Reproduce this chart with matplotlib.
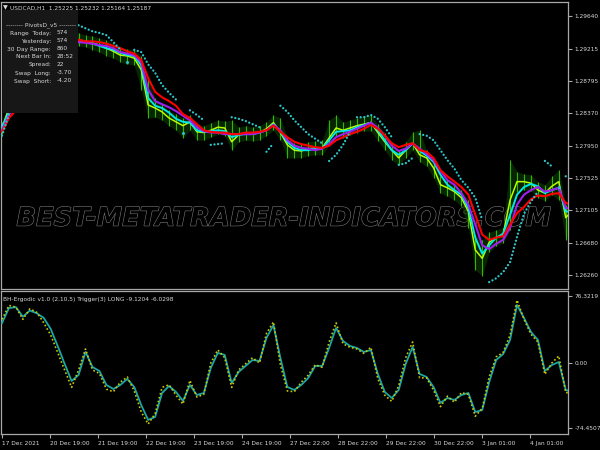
import numpy as np
import matplotlib
matplotlib.use("Agg")
import matplotlib.pyplot as plt
from matplotlib import patheffects as pe
from matplotlib import font_manager as fm
from matplotlib.patches import Rectangle

# ---------------- data ----------------
hours_per_sample = 3.48   # one sample every ~3.5 H1 bars

close = [1.2818, 1.2844, 1.2855, 1.2870, 1.2883, 1.2896, 1.2907, 1.2917, 1.2925, 1.2930,
         1.2933, 1.2933, 1.2931, 1.2929, 1.2926, 1.2922, 1.2918, 1.2913, 1.2912, 1.2909,
         1.2894, 1.2848, 1.2844, 1.2839, 1.2831, 1.2826, 1.2821, 1.2826, 1.2813, 1.2812,
         1.2815, 1.2819, 1.2818, 1.2800, 1.2809, 1.2812, 1.2810, 1.2812, 1.2817, 1.2825,
         1.2812, 1.2796, 1.2789, 1.2788, 1.2791, 1.2792, 1.2792, 1.2805, 1.2818, 1.2815,
         1.2818, 1.2821, 1.2823, 1.2825, 1.2812, 1.2800, 1.2789, 1.2779, 1.2789, 1.2798,
         1.2783, 1.2779, 1.2766, 1.2744, 1.2740, 1.2735, 1.2727, 1.2709, 1.2659, 1.2648,
         1.2669, 1.2675, 1.2679, 1.2724, 1.2748, 1.2748, 1.2746, 1.2737, 1.2733, 1.2742,
         1.2748, 1.2701, 1.2711]

ma_cyan = [1.2819, 1.2839, 1.2851, 1.2865, 1.2878, 1.2891, 1.2903, 1.2913, 1.2921, 1.2928,
           1.2930, 1.2931, 1.2930, 1.2928, 1.2925, 1.2922, 1.2920, 1.2916, 1.2913, 1.2912,
           1.2900, 1.2857, 1.2847, 1.2844, 1.2838, 1.2830, 1.2826, 1.2825, 1.2815, 1.2813,
           1.2814, 1.2815, 1.2814, 1.2806, 1.2809, 1.2810, 1.2810, 1.2812, 1.2815, 1.2823,
           1.2813, 1.2800, 1.2792, 1.2789, 1.2789, 1.2791, 1.2791, 1.2802, 1.2813, 1.2814,
           1.2815, 1.2819, 1.2822, 1.2825, 1.2815, 1.2802, 1.2789, 1.2783, 1.2789, 1.2798,
           1.2788, 1.2782, 1.2774, 1.2757, 1.2744, 1.2737, 1.2731, 1.2714, 1.2675, 1.2654,
           1.2665, 1.2675, 1.2680, 1.2705, 1.2731, 1.2741, 1.2745, 1.2742, 1.2733, 1.2737,
           1.2740, 1.2709, 1.2709]

ma_purple = [1.2815, 1.2835, 1.2847, 1.2860, 1.2873, 1.2884, 1.2896, 1.2907, 1.2916, 1.2922,
             1.2926, 1.2930, 1.2929, 1.2928, 1.2926, 1.2925, 1.2922, 1.2917, 1.2915, 1.2913,
             1.2904, 1.2868, 1.2853, 1.2849, 1.2845, 1.2840, 1.2834, 1.2828, 1.2819, 1.2814,
             1.2812, 1.2812, 1.2810, 1.2810, 1.2810, 1.2810, 1.2810, 1.2812, 1.2815, 1.2822,
             1.2815, 1.2802, 1.2795, 1.2792, 1.2791, 1.2789, 1.2791, 1.2797, 1.2806, 1.2810,
             1.2813, 1.2817, 1.2821, 1.2825, 1.2818, 1.2808, 1.2795, 1.2788, 1.2791, 1.2798,
             1.2791, 1.2784, 1.2776, 1.2762, 1.2750, 1.2744, 1.2733, 1.2718, 1.2692, 1.2665,
             1.2660, 1.2667, 1.2672, 1.2688, 1.2718, 1.2731, 1.2737, 1.2741, 1.2735, 1.2737,
             1.2740, 1.2714, 1.2711]

ma_red = [1.2813, 1.2831, 1.2841, 1.2855, 1.2866, 1.2878, 1.2888, 1.2899, 1.2908, 1.2917,
          1.2925, 1.2933, 1.2931, 1.2931, 1.2930, 1.2928, 1.2925, 1.2922, 1.2918, 1.2915,
          1.2907, 1.2883, 1.2865, 1.2858, 1.2853, 1.2847, 1.2836, 1.2831, 1.2823, 1.2815,
          1.2813, 1.2812, 1.2812, 1.2810, 1.2810, 1.2812, 1.2812, 1.2813, 1.2815, 1.2821,
          1.2813, 1.2806, 1.2800, 1.2797, 1.2795, 1.2793, 1.2792, 1.2795, 1.2802, 1.2806,
          1.2810, 1.2813, 1.2817, 1.2822, 1.2817, 1.2808, 1.2798, 1.2793, 1.2796, 1.2798,
          1.2789, 1.2787, 1.2779, 1.2763, 1.2755, 1.2748, 1.2741, 1.2731, 1.2705, 1.2679,
          1.2672, 1.2675, 1.2677, 1.2692, 1.2707, 1.2715, 1.2725, 1.2730, 1.2729, 1.2732,
          1.2733, 1.2720, 1.2719]

sar = [1.2808, 1.2836, 1.2844, 1.2855, 1.2865, 1.2875, 1.2886, 1.2896, 1.2907, 1.2915,
       1.2922, 1.2952, 1.2948, 1.2944, 1.2942, 1.2939, 1.2930, 1.2920, 1.2904, 1.2920,
       1.2917, 1.2901, 1.2890, 1.2874, 1.2864, 1.2855, 1.2812, 1.2841, 1.2835, 1.2828,
       1.2796, 1.2797, 1.2798, 1.2832, 1.2830, 1.2827, 1.2823, 1.2819, 1.2787, 1.2798,
       1.2847, 1.2839, 1.2828, 1.2819, 1.2810, 1.2804, 1.2798, 1.2775, 1.2783, 1.2796,
       1.2813, 1.2832, 1.2832, 1.2835, 1.2830, 1.2819, 1.2806, 1.2770, 1.2772, 1.2779,
       1.2810, 1.2808, 1.2802, 1.2789, 1.2776, 1.2765, 1.2750, 1.2740, 1.2727, 1.2698,
       1.2617, 1.2622, 1.2630, 1.2643, 1.2676, 1.2706, 1.2722, 1.2735, 1.2775, 1.2768,
       1.2741, 1.2755, 1.2753]

high = [1.2826, 1.2849, 1.2862, 1.2878, 1.2891, 1.2904, 1.2915, 1.2925, 1.2933, 1.2938,
        1.2941, 1.2942, 1.2939, 1.2938, 1.2935, 1.2933, 1.2928, 1.2924, 1.2921, 1.2920,
        1.2912, 1.2881, 1.2857, 1.2849, 1.2841, 1.2836, 1.2831, 1.2835, 1.2823, 1.2821,
        1.2825, 1.2828, 1.2827, 1.2828, 1.2819, 1.2821, 1.2819, 1.2821, 1.2826, 1.2835,
        1.2831, 1.2806, 1.2798, 1.2797, 1.2800, 1.2801, 1.2802, 1.2828, 1.2835, 1.2826,
        1.2828, 1.2831, 1.2834, 1.2835, 1.2823, 1.2812, 1.2800, 1.2789, 1.2800, 1.2813,
        1.2815, 1.2789, 1.2779, 1.2755, 1.2750, 1.2745, 1.2737, 1.2724, 1.2679, 1.2672,
        1.2682, 1.2685, 1.2688, 1.2776, 1.2761, 1.2758, 1.2757, 1.2748, 1.2744, 1.2755,
        1.2763, 1.2718, 1.2724]

low = [1.2810, 1.2836, 1.2847, 1.2862, 1.2875, 1.2888, 1.2899, 1.2909, 1.2917, 1.2922,
       1.2925, 1.2925, 1.2924, 1.2920, 1.2917, 1.2912, 1.2909, 1.2904, 1.2901, 1.2900,
       1.2868, 1.2831, 1.2832, 1.2828, 1.2821, 1.2815, 1.2805, 1.2815, 1.2802, 1.2802,
       1.2806, 1.2810, 1.2808, 1.2789, 1.2800, 1.2802, 1.2801, 1.2802, 1.2808, 1.2815,
       1.2802, 1.2779, 1.2779, 1.2779, 1.2782, 1.2783, 1.2783, 1.2795, 1.2808, 1.2805,
       1.2809, 1.2812, 1.2814, 1.2814, 1.2801, 1.2789, 1.2776, 1.2770, 1.2779, 1.2789,
       1.2774, 1.2768, 1.2753, 1.2733, 1.2729, 1.2724, 1.2716, 1.2688, 1.2633, 1.2625,
       1.2656, 1.2664, 1.2668, 1.2685, 1.2735, 1.2737, 1.2736, 1.2727, 1.2723, 1.2731,
       1.2724, 1.2672, 1.2698]

ergodic = [45.8, 63, 64, 53, 60, 57, 51.6, 39, 19.5, -1,
           -20.6, -13.8, 12.6, -4.6, -9.2, -25.2, -29.8, -25.2, -18.3, -27.5,
           -48.1, -65.3, -61.9, -34.4, -26.4, -33.2, -43.5, -25.2, -36.7, -34.4,
           -5.7, 11.5, 9.2, -22.9, -10.3, -3.4, 3.4, 2.3, 28.7, 43.5,
           5.7, -27.5, -30.9, -25.2, -17.2, -3.4, -3.4, 17.2, 40.1, 25.2,
           19.5, 17.2, 12.6, 14.9, -12.6, -33.2, -40.1, -30.9, -1.1, 18.3,
           -12.6, -16, -27.5, -45.8, -40.1, -42.4, -36.7, -34.4, -56.2, -53.9,
           -21.8, 3.4, 10.3, 26.4, 66.5, 51.6, 35.5, 26.4, -9.2, -2.3,
           1.1, -30.9, -33.2]

trigger = [50, 66, 64, 50, 62, 58, 46, 32, 12, -8,
           -28, -8, 16, -8, -12, -30, -33, -22, -16, -32,
           -56, -70, -58, -28, -25, -37, -47, -20, -39, -36,
           0, 15, 6, -28, -8, -1, 6, 0, 34, 47,
           -2, -32, -33, -22, -14, -2, -5, 24, 46, 22,
           18, 16, 11, 18, -18, -37, -44, -26, 6, 24,
           -17, -17, -31, -50, -38, -45, -34, -36, -61, -52,
           -16, 7, 12, 32, 72, 50, 33, 24, -13, 0,
           8, -34, -34]

price_ticks = [1.29640, 1.29215, 1.28795, 1.28370, 1.27950, 1.27525, 1.27105, 1.26680, 1.26260]
osc_ticks = [76.3219, 0.0, -74.4507]
osc_tick_labels = ["76.3219", "0.00", "-74.4507"]
time_tick_hours = [0, 24, 48, 72, 96, 120, 144, 168, 192, 216, 240, 264]
time_labels = ["17 Dec 2021", "20 Dec 19:00", "21 Dec 19:00", "22 Dec 19:00",
               "23 Dec 19:00", "24 Dec 19:00", "27 Dec 22:00", "28 Dec 22:00",
               "29 Dec 22:00", "30 Dec 22:00", "3 Jan 01:00", "4 Jan 01:00"]

info_labels = ["Range  Today:", "Yesterday:", "30 Day Range:", "Next Bar In:",
               "Spread:", "Swap  Long:", "Swap  Short:"]
info_values = ["574", "574", "860", "28:52", "22", "-3.70", "-4.20"]

# ---------------- style ----------------
avail = {f.name for f in fm.fontManager.ttflist}
if "Liberation Sans Narrow" in avail:
    FAM = ["Liberation Sans Narrow", "DejaVu Sans"]
    FS = 5.0
else:
    FAM = ["DejaVu Sans"]
    FS = 4.2
plt.rcParams["font.family"] = FAM

TXT = "#d8d8d8"
FRAME = "#a8a8a8"
W, H = 600, 450

fig = plt.figure(figsize=(6, 4.5), dpi=100, facecolor="black")


def px_axes(x0, y0, x1, y1):
    return fig.add_axes([x0 / W, 1 - y1 / H, (x1 - x0) / W, (y1 - y0) / H])


ax1 = px_axes(1, 2, 568, 289)
ax2 = px_axes(1, 291, 568, 434)

n = len(close)
t = np.arange(n) * hours_per_sample
close_a = np.array(close)
sar_a = np.array(sar)

for ax in (ax1, ax2):
    ax.set_facecolor("black")
    for s in ax.spines.values():
        s.set_color(FRAME)
        s.set_linewidth(0.9)
    ax.set_xlim(-0.5, 283)

# ---- upper panel ----
ax1.fill_between(t, low, high, color="#145000", alpha=0.45, lw=0, zorder=1)
ax1.vlines(t, low, high, color="#33b800", lw=0.8, zorder=2)
ax1.plot(t, close, color="#b6ff00", lw=1.1, zorder=3)
ax1.plot(t, ma_cyan, color="#00e8e8", lw=1.4, zorder=4)
ax1.plot(t, ma_purple, color="#a01ef0", lw=1.5, zorder=5)
ax1.plot(t, ma_red, color="#ff0000", lw=1.5, zorder=6)

# parabolic SAR: dotted runs, broken where it flips side of price
below = sar_a < close_a
start = 0
SARC = "#2cc4c8"
for i in range(1, n + 1):
    if i == n or below[i] != below[start]:
        xs, ys = t[start:i], sar_a[start:i]
        if len(xs) > 1:
            ax1.plot(xs, ys, color=SARC, lw=1.7, ls=(0, (0.01, 1.55)),
                     dash_capstyle="round", zorder=7)
        else:
            ax1.plot(xs, ys, "o", color=SARC, ms=2.2, mew=0, zorder=7)
        start = i

ax1.set_ylim(1.26080, 1.29823)
ax1.yaxis.tick_right()
ax1.set_yticks(price_ticks)
ax1.set_yticklabels([f"{v:.5f}" for v in price_ticks])
ax1.tick_params(axis="y", direction="out", length=3, width=0.8, color=FRAME,
                labelsize=FS, labelcolor=TXT, pad=1.5)
ax1.set_xticks([])

# watermark
ax1.text(0.5, 0.245, "BEST-METATRADER-INDICATORS.COM", transform=ax1.transAxes,
         ha="center", va="center", fontsize=18.5, family="DejaVu Sans",
         weight="bold", style="italic", color="black", zorder=0.5,
         path_effects=[pe.Stroke(linewidth=0.8, foreground="#7a7a7a"), pe.Normal()])

# ---- lower panel ----
ax2.plot(t, ergodic, color="#1aa6a6", lw=1.3, zorder=3)
ax2.plot(t, trigger, color="#c8c800", lw=1.2, ls=(0, (1.0, 1.4)), zorder=4)
ax2.set_ylim(-81.4, 82.5)
ax2.yaxis.tick_right()
ax2.set_yticks(osc_ticks)
ax2.set_yticklabels(osc_tick_labels)
ax2.tick_params(axis="y", direction="out", length=3, width=0.8, color=FRAME,
                labelsize=FS, labelcolor=TXT, pad=1.5)
ax2.set_xticks(time_tick_hours)
ax2.set_xticklabels(time_labels, ha="left")
ax2.tick_params(axis="x", direction="out", length=3, width=0.8, color=FRAME,
                labelsize=FS, labelcolor=TXT, pad=2)

# ---- texts and info box ----
def ftext(x, y, s, **kw):
    kw.setdefault("color", TXT)
    kw.setdefault("fontsize", FS)
    kw.setdefault("va", "center")
    return fig.text(x / W, 1 - y / H, s, zorder=12, **kw)

fig.patches.append(Rectangle((3 / W, 1 - 113 / H), 75 / W, 103 / H,
                             transform=fig.transFigure, facecolor="#171717",
                             edgecolor="none", zorder=10))
ftext(3, 8, "\u25bc", family="DejaVu Sans", fontsize=4.5)
ftext(10, 8, "USDCAD,H1  1.25225 1.25232 1.25164 1.25187")
ftext(41, 25, "-------- PivotsD_v5 --------", ha="center")
for i, (lab, val) in enumerate(zip(info_labels, info_values)):
    y = 33 + 8 * i
    ftext(51, y, lab, ha="right")
    ftext(57, y, val, ha="left")
ftext(3, 299, "BH-Ergodic v1.0 (2,10,5) Trigger(3) LONG -9.1204 -6.0298")

fig.savefig("out.png", dpi=100, facecolor="black")
